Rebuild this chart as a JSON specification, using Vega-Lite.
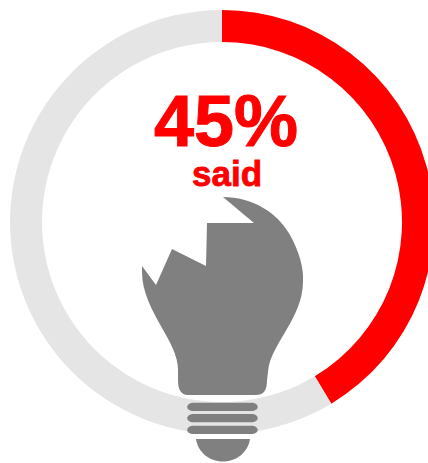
{
  "$schema": "https://vega.github.io/schema/vega-lite/v6.json",
  "width": 428,
  "height": 463,
  "padding": 0,
  "autosize": "none",
  "background": "white",
  "view": {"stroke": null},
  "config": {"font": "Liberation Sans"},
  "layer": [
    {
      "data": {"values": [
        {"segment": "said", "order": 1, "share": 45},
        {"segment": "other", "order": 2, "share": 55}
      ]},
      "mark": {"type": "arc", "innerRadius": 180, "outerRadius": 212},
      "encoding": {
        "x": {"datum": 222, "type": "quantitative", "scale": {"domain": [0, 428], "nice": false, "zero": false}, "axis": null},
        "y": {"datum": 222, "type": "quantitative", "scale": {"domain": [463, 0], "nice": false, "zero": false}, "axis": null},
        "theta": {"field": "share", "type": "quantitative", "stack": true, "scale": {"domain": [0, 45, 100], "range": [0, 2.6, 6.2832]}},
        "order": {"field": "order"},
        "color": {"field": "segment", "type": "nominal", "scale": {"domain": ["said", "other"], "range": ["#ff0000", "#e5e5e5"]}, "legend": null}
      }
    },
    {
      "data": {"values": [{"icon": "broken bulb"}]},
      "mark": {
        "type": "point",
        "filled": true,
        "opacity": 1,
        "size": 4,
        "color": "#808080",
        "strokeWidth": 0,
        "shape": "M1 -133 C30 -133 55 -118 68 -95 C77 -79 82 -62 81 -48 C81 -30 72 -13 66 -3 C58 12 47 26 46 42 L45 50 C45 60 42 65 34 65 L-34 65 C-42 65 -44 58 -44 50 L-44 40 C-44 26 -52 12 -60 -2 C-70 -20 -80 -38 -80 -58 L-80 -64 L-66 -45 L-50 -81 L-16 -64 L-15 -107 L32 -107 Z M-28 72.7 L29 72.7 C38 72.7 38 81 29 81 L-28 81 C-37 81 -37 72.7 -28 72.7 Z M-28 84 L29 84 C38 84 38 92.3 29 92.3 L-28 92.3 C-37 92.3 -37 84 -28 84 Z M-28 95.7 L29 95.7 C38 95.7 38 104 29 104 L-28 104 C-37 104 -37 95.7 -28 95.7 Z M-26 109 L28 109 C26 122 15 131.5 1 131.5 C-13 131.5 -24 122 -26 109 Z"
      },
      "encoding": {
        "x": {"datum": 222, "type": "quantitative"},
        "y": {"datum": 330, "type": "quantitative"}
      }
    },
    {
      "data": {"values": [{"label": "45%"}]},
      "mark": {"type": "text", "font": "Liberation Sans", "fontWeight": "bold", "fontSize": 72, "color": "#ff0000", "stroke": "#ff0000", "strokeWidth": 1, "align": "center", "baseline": "alphabetic"},
      "encoding": {
        "text": {"field": "label"},
        "x": {"datum": 226, "type": "quantitative"},
        "y": {"datum": 146, "type": "quantitative"}
      }
    },
    {
      "data": {"values": [{"label": "said"}]},
      "mark": {"type": "text", "font": "Liberation Sans", "fontWeight": "bold", "fontSize": 35, "color": "#ff0000", "stroke": "#ff0000", "strokeWidth": 0.8, "align": "center", "baseline": "alphabetic"},
      "encoding": {
        "text": {"field": "label"},
        "x": {"datum": 227, "type": "quantitative"},
        "y": {"datum": 186, "type": "quantitative"}
      }
    }
  ]
}
